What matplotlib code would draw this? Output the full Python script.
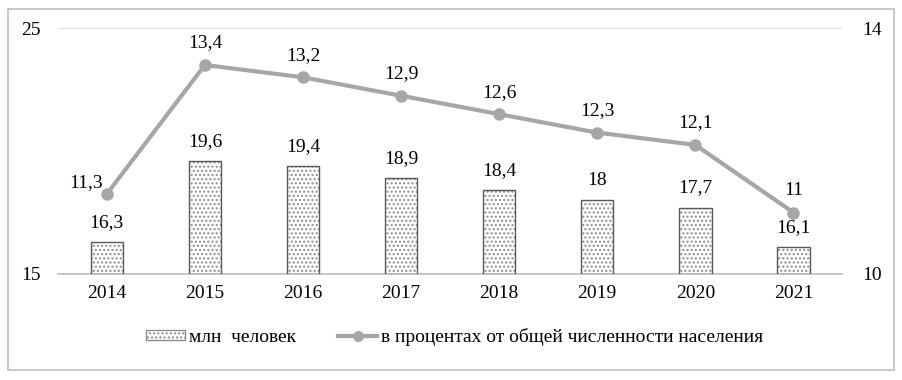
import matplotlib.pyplot as plt
from matplotlib.patches import Rectangle
from matplotlib.lines import Line2D

# data
years = ['2014', '2015', '2016', '2017', '2018', '2019', '2020', '2021']
mln = [16.3, 19.6, 19.4, 18.9, 18.4, 18.0, 17.7, 16.1]
pct = [11.3, 13.4, 13.2, 12.9, 12.6, 12.3, 12.1, 11.0]


def fmt(v):
    s = ('%g' % v).replace('.', ',')
    return s


plt.rcParams['font.family'] = ['Liberation Serif', 'DejaVu Serif']
plt.rcParams['font.size'] = 14

fig = plt.figure(figsize=(9.02, 3.8), dpi=100)
ax = fig.add_axes([0.064, 0.279, 0.870, 0.647])
x = list(range(len(years)))

# bars: dotted fill, then dark outline on top
ax.bar(x, [v - 15 for v in mln], bottom=15, width=0.33, color='white',
       edgecolor='#8c8c8c', hatch='....', linewidth=0, zorder=2)
ax.bar(x, [v - 15 for v in mln], bottom=15, width=0.33, fill=False,
       edgecolor='#595959', linewidth=1.0, zorder=3)
for xi, v in zip(x, mln):
    ax.text(xi, v + 0.45, fmt(v), ha='center', va='bottom', fontsize=14)

ax.set_ylim(15, 25)
ax.set_xlim(-0.5, len(years) - 0.5)
ax.set_yticks([15, 25])
ax.set_xticks(x)
ax.set_xticklabels(years)
ax.grid(axis='y', color='#d9d9d9', linewidth=1.2, zorder=0)
ax.set_axisbelow(True)
for s in ['top', 'left', 'right']:
    ax.spines[s].set_visible(False)
ax.spines['bottom'].set_color('#bfbfbf')
ax.spines['bottom'].set_linewidth(1.2)
ax.tick_params(length=0, labelsize=14)
ax.tick_params(axis='y', pad=12)
ax.tick_params(axis='x', pad=8)

ax2 = ax.twinx()
ax2.plot(x, pct, color='#a6a6a6', linewidth=3, marker='o', markersize=8,
         zorder=4)
for i, (xi, v) in enumerate(zip(x, pct)):
    if i == 0:
        # first label sits to the left of the point
        ax2.annotate(fmt(v), (xi, v), xytext=(-3, 2),
                     textcoords='offset points', ha='right', va='bottom',
                     fontsize=14)
    else:
        ax2.text(xi, v + 0.22, fmt(v), ha='center', va='bottom', fontsize=14)
ax2.set_ylim(10, 14)
ax2.set_yticks([10, 14])
for s in ax2.spines.values():
    s.set_visible(False)
ax2.tick_params(length=0, labelsize=14, pad=14)

handles = [
    Rectangle((0, 0), 1, 1, facecolor='white', edgecolor='#8c8c8c',
              hatch='....', linewidth=1),
    Line2D([0], [0], color='#a6a6a6', linewidth=3, marker='o', markersize=7),
]
fig.legend(handles, ['млн  человек',
                     'в процентах от общей численности населения'],
           loc='center', bbox_to_anchor=(0.504, 0.113), ncol=2, frameon=False,
           fontsize=14, handlelength=2.0, handleheight=0.45,
           columnspacing=2.2, handletextpad=0.2)

fig.patches.append(Rectangle((0.009, 0.026), 0.982, 0.95,
                             transform=fig.transFigure, fill=False,
                             edgecolor='#bfbfbf', linewidth=1.2))

fig.savefig('out.png', dpi=100)
